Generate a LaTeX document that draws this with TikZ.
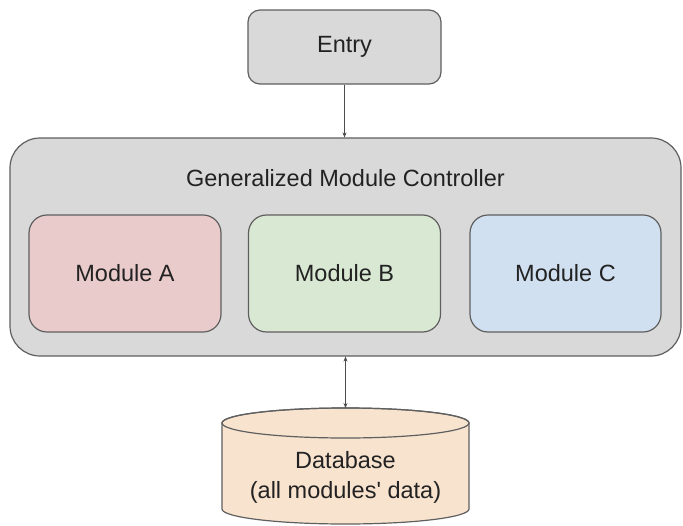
\documentclass[tikz,border=0pt]{standalone}
\usepackage{fontspec}
\setmainfont{Liberation Sans}[Ligatures=TeXOff]
\usetikzlibrary{arrows.meta}
\definecolor{boxgray}{HTML}{D9D9D9}
\definecolor{edgegray}{HTML}{5F5F5F}
\definecolor{modred}{HTML}{EACBCB}
\definecolor{modgreen}{HTML}{D9E8D3}
\definecolor{modblue}{HTML}{D0E0F0}
\definecolor{dbfill}{HTML}{F8E3CF}
\definecolor{txt}{HTML}{222222}
\newcommand\labelfont{\fontsize{23.5}{30}\selectfont}
\tikzset{
  base/.style={draw=edgegray, line width=1.2pt, text=txt, font=\labelfont, inner sep=0pt},
  entrybox/.style={base, fill=boxgray, rounded corners=12pt, minimum width=193pt, minimum height=74pt},
  ctrlbox/.style={base, fill=boxgray, rounded corners=30pt, minimum width=671pt, minimum height=218pt},
  modbox/.style={base, rounded corners=18pt, minimum width=192pt, minimum height=117pt},
  conn/.style={draw=edgegray!80!black, line width=1.1pt, -{Stealth[length=5pt,width=4pt]}},
}
\begin{document}
\begin{tikzpicture}[x=1pt,y=-1pt]
\useasboundingbox[fill=white] (0,0) rectangle (683,525);

% entry point and controller frame
\node[entrybox] (entry) at (344.5,47) {Entry};
\node[ctrlbox] (ctrl) at (345.5,247) {};
\node[text=txt, font=\labelfont] (ctrllabel) at (345.5,178) {Generalized Module Controller};

% modules
\node[modbox, fill=modred] (modA) at (125,273.5) {Module A};
\node[modbox, fill=modgreen] (modB) at (344.5,273.5) {Module B};
\node[modbox, fill=modblue, minimum width=191pt] (modC) at (565.5,273.5) {Module C};

% database cylinder
\coordinate (dbtop) at (345.5,408);
\path[fill=dbfill, draw=edgegray, line width=1.2pt]
  (222,423) -- (222,509) arc[start angle=180, end angle=360, x radius=123.5pt, y radius=15pt]
  -- (469,423) arc[start angle=0, end angle=180, x radius=123.5pt, y radius=15pt] -- cycle;
\draw[draw=edgegray, line width=1.2pt] (345.5,423) ellipse [x radius=123.5pt, y radius=15pt];
\node[text=txt, font=\labelfont, align=center] (db) at (345.5,477) {Database\\(all modules' data)};

% connectors
\draw[conn] (entry.south) -- (entry.south |- ctrl.north);
\draw[conn, {Stealth[length=5pt,width=4pt]}-{Stealth[length=5pt,width=4pt]}] (ctrl.south -| dbtop) -- (dbtop);
\end{tikzpicture}
\end{document}
